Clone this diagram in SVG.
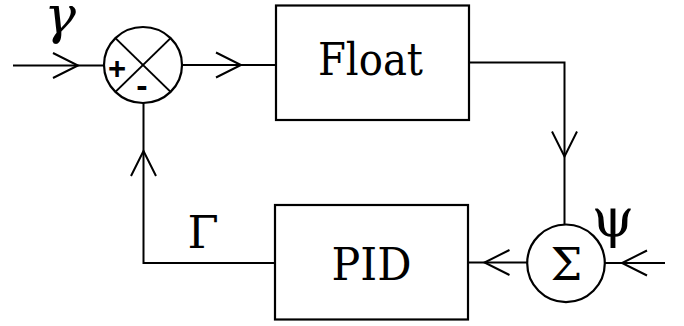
<svg xmlns="http://www.w3.org/2000/svg" xmlns:xlink="http://www.w3.org/1999/xlink" width="684" height="326" viewBox="0 0 684 326">
  <style>
    .wire { fill: none; stroke: #000; stroke-width: 2; }
    .box { fill: #fff; stroke: #000; stroke-width: 2.2; }
    .sign { font-family: 'Liberation Sans', Arial, sans-serif; font-weight: bold; fill: #000; }
    .lbl { fill: #000; text-anchor: middle; }
  </style>
  <defs>
    <!-- open chevron pointing along +x, tip at the origin -->
    <path id="chev" d="M-25,-12.5 L0,0 L-25,12.5" fill="none" stroke="#000" stroke-width="2"/>
  </defs>

  <g id="connectors">
    <!-- reference input into comparator -->
    <line class="wire" x1="13" y1="65.5" x2="104.5" y2="65.5"/>
    <use xlink:href="#chev" transform="translate(78,65.5)"/>
    <!-- comparator to Float -->
    <line class="wire" x1="182" y1="65" x2="276" y2="65"/>
    <use xlink:href="#chev" transform="translate(241,65)"/>
    <!-- Float output down to summing node -->
    <polyline class="wire" points="469,62.5 564.5,62.5 564.5,225"/>
    <use xlink:href="#chev" transform="translate(564.5,156.5) rotate(90)"/>
    <!-- disturbance input into summing node -->
    <line class="wire" x1="665" y1="263" x2="604.5" y2="263"/>
    <use xlink:href="#chev" transform="translate(622,263) rotate(180)"/>
    <!-- summing node to PID -->
    <line class="wire" x1="527" y1="262.5" x2="468" y2="262.5"/>
    <use xlink:href="#chev" transform="translate(484.5,262.5) rotate(180)"/>
    <!-- PID feedback up to comparator -->
    <polyline class="wire" points="275,263 143.5,263 143.5,103"/>
    <use xlink:href="#chev" transform="translate(143.5,151) rotate(-90)"/>
  </g>

  <g id="comparator">
    <ellipse class="box" cx="143" cy="65" rx="39" ry="38"/>
    <line class="wire" x1="115.4" y1="38.1" x2="170.6" y2="91.9"/>
    <line class="wire" x1="170.6" y1="38.1" x2="115.4" y2="91.9"/>
    <text class="sign" x="117" y="79" font-size="31" text-anchor="middle">+</text>
    <text class="sign" x="142" y="97" font-size="34" text-anchor="middle">-</text>
  </g>

  <g id="float">
    <rect class="box" x="276" y="5.5" width="193" height="114.5"/>
    <text class="lbl" font-family="DejaVu Serif Condensed, DejaVu Serif, serif" x="370.5" y="75" font-size="45" textLength="105" lengthAdjust="spacingAndGlyphs">Float</text>
  </g>

  <g id="summing">
    <circle class="box" cx="566" cy="263.3" r="38.8"/>
    <text class="lbl" font-family="DejaVu Serif, serif" x="566.5" y="280" font-size="45">Σ</text>
  </g>

  <g id="pid">
    <rect class="box" x="275" y="205" width="193" height="114.5"/>
    <text class="lbl" font-family="DejaVu Serif, serif" x="371.5" y="279.5" font-size="45" textLength="80" lengthAdjust="spacingAndGlyphs">PID</text>
  </g>

  <g id="labels">
    <text class="lbl" font-family="DejaVu Serif, serif" x="60" y="32.5" font-size="53" font-style="italic">γ</text>
    <text class="lbl" font-family="DejaVu Serif, serif" x="203" y="248" font-size="45">Γ</text>
    <text class="lbl" font-family="DejaVu Serif, DejaVu Sans, serif" x="613" y="237" font-size="54">ψ</text>
  </g>
</svg>
